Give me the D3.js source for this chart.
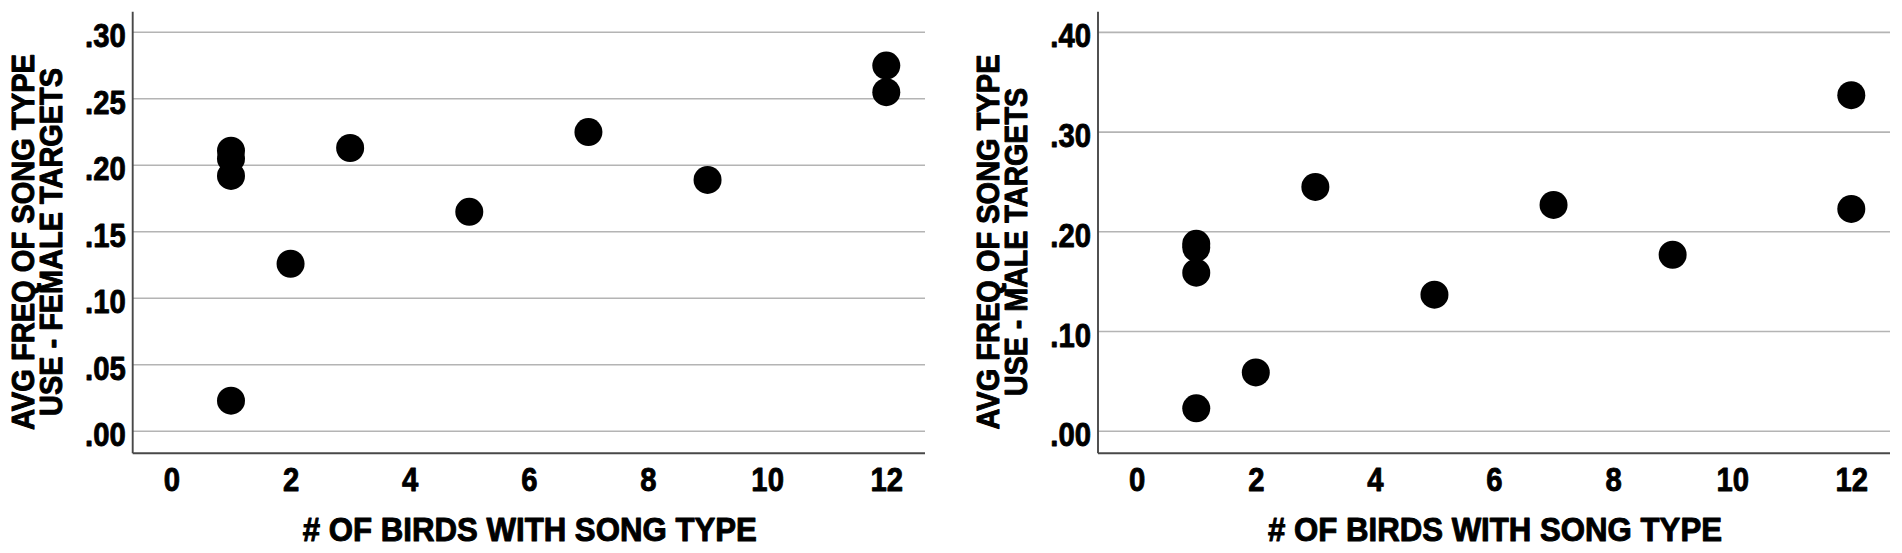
<!DOCTYPE html>
<html>
<head>
<meta charset="utf-8">
<script src="https://cdn.jsdelivr.net/npm/d3@7"></script>
<style>
  html, body { margin: 0; padding: 0; background: #ffffff; }
  svg { display: block; }
  text { font-family: "Liberation Sans", Arial, sans-serif; font-weight: bold; fill: #000; }
</style>
</head>
<body>
<svg id="chart" width="1902" height="553"></svg>
<script>
// ---- data ----
const birdsWithSongType = [1, 1, 1, 1, 2, 3, 5, 7, 9, 12, 12];
const femaleFreq = [0.211, 0.205, 0.192, 0.023, 0.126, 0.213, 0.165, 0.225, 0.189, 0.275, 0.255];
const maleFreq   = [0.188, 0.184, 0.159, 0.023, 0.059, 0.245, 0.137, 0.227, 0.177, 0.337, 0.223];
const xTicks = [0, 2, 4, 6, 8, 10, 12];
const femaleYTicks = [0, 0.05, 0.10, 0.15, 0.20, 0.25, 0.30];
const maleYTicks = [0, 0.10, 0.20, 0.30, 0.40];
const xTitle = "# OF BIRDS WITH SONG TYPE";
const femaleTitle = ["AVG FREQ OF SONG TYPE", "USE - FEMALE TARGETS"];
const maleTitle = ["AVG FREQ OF SONG TYPE", "USE - MALE TARGETS"];

const svg = d3.select("#chart");
const fmt = d => d3.format(".2f")(d).replace(/^0/, "");
const FONT = '"Liberation Sans", Arial, sans-serif';

function styleText(sel, size, sw) {
  sel.attr("font-size", size)
    .style("font-family", FONT).style("font-weight", "bold")
    .attr("fill", "#000").attr("stroke", "#000").attr("stroke-width", sw)
    .attr("stroke-linejoin", "round");
}
function condense(sel, k) {
  sel.each(function () {
    const w = this.getComputedTextLength();
    d3.select(this).attr("textLength", w * k).attr("lengthAdjust", "spacingAndGlyphs");
  });
}

function drawPanel(opt) {
  const g = svg.append("g");
  const x = d3.scaleLinear().domain([-0.65, 12.65]).range([opt.left, opt.right]);
  const y = d3.scaleLinear().domain(opt.yDomain).range([opt.bottom, opt.top]);

  // gridlines
  g.selectAll(".grid").data(opt.yTicks).enter().append("line")
    .attr("x1", opt.left).attr("x2", opt.right)
    .attr("y1", d => y(d)).attr("y2", d => y(d))
    .attr("stroke", "#b4b4b4").attr("stroke-width", 1.6);

  // y axis (labels only, no tick marks)
  const yAxis = d3.axisLeft(y).tickValues(opt.yTicks).tickFormat(fmt).tickSize(0).tickPadding(7);
  const ya = g.append("g").attr("transform", `translate(${opt.left},0)`).call(yAxis);
  ya.select(".domain").remove();
  const yt = ya.selectAll("text").attr("dy", "0.43em");
  styleText(yt, 34, 0.9);
  condense(yt, 0.86);

  // x axis labels
  const xAxis = d3.axisBottom(x).tickValues(xTicks).tickFormat(d3.format("d")).tickSize(0).tickPadding(0);
  const xa = g.append("g").attr("transform", `translate(0,${opt.bottom})`).call(xAxis);
  xa.select(".domain").remove();
  const xt = xa.selectAll("text").attr("dy", null).attr("y", 37.5);
  styleText(xt, 34, 0.9);
  condense(xt, 0.86);

  // axis lines
  g.append("line").attr("x1", opt.left).attr("x2", opt.left).attr("y1", opt.top).attr("y2", opt.bottom)
    .attr("stroke", "#484848").attr("stroke-width", 1.9);
  g.append("line").attr("x1", opt.left).attr("x2", opt.right).attr("y1", opt.bottom).attr("y2", opt.bottom)
    .attr("stroke", "#484848").attr("stroke-width", 1.9);

  // points
  g.selectAll(".pt").data(opt.values.map((v, i) => [birdsWithSongType[i], v])).enter().append("circle")
    .attr("cx", d => x(d[0])).attr("cy", d => y(d[1])).attr("r", 14).attr("fill", "#000");

  // x title
  styleText(g.append("text").attr("x", (opt.left + opt.right) / 2 + 1).attr("y", 541)
    .attr("text-anchor", "middle")
    .attr("textLength", 454).attr("lengthAdjust", "spacingAndGlyphs")
    .text(xTitle), 34, 1.0);

  // y title (two lines)
  const cy = 242;
  opt.title.forEach((t, i) => {
    styleText(g.append("text").attr("transform", `translate(${opt.titleX[i]},${cy}) rotate(-90)`)
      .attr("text-anchor", "middle")
      .attr("textLength", opt.titleLen[i]).attr("lengthAdjust", "spacingAndGlyphs")
      .text(t), 32, 1.0);
  });
}

drawPanel({
  left: 132.7, right: 925, top: 11.7, bottom: 453.3,
  yDomain: [-0.01654, 0.3155], yTicks: femaleYTicks, values: femaleFreq,
  title: femaleTitle, titleX: [34, 62], titleLen: [376, 348]
});
drawPanel({
  left: 1098, right: 1890, top: 11.7, bottom: 453.3,
  yDomain: [-0.02206, 0.4207], yTicks: maleYTicks, values: maleFreq,
  title: maleTitle, titleX: [999, 1027], titleLen: [375, 308]
});
</script>
</body>
</html>
